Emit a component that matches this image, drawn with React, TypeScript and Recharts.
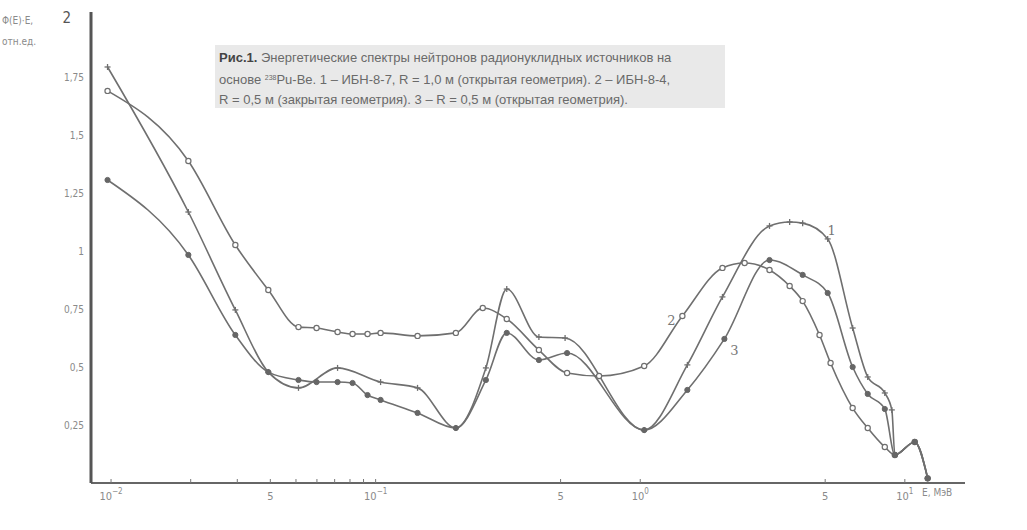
import { LineChart, Line, XAxis, YAxis, ReferenceDot } from "recharts";

// E, MeV
const energy1 = [0.0097, 0.0196, 0.0295, 0.0393, 0.0511, 0.0718, 0.1044, 0.144, 0.201, 0.261, 0.313, 0.414, 0.52, 1.035, 1.507, 2.045, 3.08, 3.67, 4.11, 5.11, 6.35, 7.24, 8.4, 8.93, 9.17, 10.9, 12.2];
const flux1 = [1.793, 1.168, 0.746, 0.478, 0.41, 0.496, 0.435, 0.41, 0.237, 0.496, 0.836, 0.629, 0.625, 0.228, 0.509, 0.802, 1.108, 1.125, 1.12, 1.052, 0.668, 0.457, 0.388, 0.315, 0.121, 0.177, 0.02];

const energy2 = [0.0097, 0.0196, 0.0295, 0.0393, 0.0511, 0.0598, 0.0718, 0.0818, 0.0932, 0.1044, 0.144, 0.201, 0.254, 0.313, 0.414, 0.529, 0.699, 1.035, 1.443, 2.045, 2.48, 3.08, 3.67, 4.11, 4.76, 5.24, 6.35, 7.24, 8.4, 9.17, 10.9, 12.2];
const flux2 = [1.69, 1.388, 1.026, 0.832, 0.672, 0.668, 0.651, 0.642, 0.642, 0.647, 0.634, 0.647, 0.754, 0.707, 0.573, 0.474, 0.461, 0.504, 0.72, 0.927, 0.948, 0.918, 0.849, 0.784, 0.638, 0.517, 0.323, 0.237, 0.155, 0.121, 0.177, 0.02];

const energy3 = [0.0097, 0.0196, 0.0295, 0.0393, 0.0511, 0.0598, 0.0718, 0.0818, 0.0932, 0.1044, 0.144, 0.201, 0.261, 0.313, 0.414, 0.529, 1.035, 1.507, 2.08, 3.08, 4.11, 5.11, 6.35, 7.24, 8.4, 9.17, 10.9, 12.2];
const flux3 = [1.306, 0.983, 0.638, 0.478, 0.444, 0.435, 0.435, 0.431, 0.379, 0.358, 0.302, 0.237, 0.444, 0.647, 0.53, 0.56, 0.228, 0.401, 0.621, 0.961, 0.897, 0.819, 0.5, 0.384, 0.319, 0.121, 0.177, 0.02];

const xTicks = [0.01, 0.02, 0.03, 0.04, 0.05, 0.06, 0.07, 0.08, 0.09, 0.1, 0.5, 1, 5, 10];
const xTickLabels = ["10^−2", "", "", "5", "", "", "", "", "", "10^−1", "5", "10^0", "5", "10^1"];

const yTicks = [0.25, 0.5, 0.75, 1, 1.25, 1.5, 1.75, 2];
const yTickLabels = ["0,25", "0,5", "0,75", "1", "1,25", "1,5", "1,75", "2"];

const toRows = (es: number[], vs: number[]) => es.map((e, i) => ({ e, v: vs[i] }));

const GREY = "#6f6f6f";
const FONT = "'DejaVu Sans Condensed', 'Liberation Sans Narrow', 'DejaVu Sans', sans-serif";

function XTick({ x, y, payload }: any) {
  const lab = xTickLabels[xTicks.indexOf(payload.value)] || "";
  const [base, exp] = lab.split("^");
  return (
    <g>
      <line x1={x} x2={x} y1={y} y2={y - 4} stroke="#777" />
      {lab && (
        <text x={x} y={y + 17} textAnchor="middle" fontSize={11} fill="#8a8a8a" fontFamily={FONT}>
          {base}
          {exp && <tspan dy={-6} fontSize={8}>{exp}</tspan>}
        </text>
      )}
    </g>
  );
}

function YTick({ x, y, payload }: any) {
  const i = yTicks.indexOf(payload.value);
  const big = payload.value === 2;
  return (
    <text x={x - (big ? 20 : 7)} y={y + 4} textAnchor="end" fontSize={big ? 15 : 10} fill={big ? "#555" : "#8a8a8a"} fontFamily={FONT}>
      {yTickLabels[i]}
    </text>
  );
}

const plusDot = ({ cx, cy, index }: any) => (
  <g key={index}>
    <line x1={cx - 3} x2={cx + 3} y1={cy} y2={cy} stroke={GREY} strokeWidth={1.3} />
    <line x1={cx} x2={cx} y1={cy - 3} y2={cy + 3} stroke={GREY} strokeWidth={1.3} />
  </g>
);
const openDot = ({ cx, cy, index }: any) => (
  <circle key={index} cx={cx} cy={cy} r={2.6} fill="#fff" stroke={GREY} strokeWidth={1.2} />
);
const fullDot = ({ cx, cy, index }: any) => (
  <circle key={index} cx={cx} cy={cy} r={2.6} fill="#666" stroke="#666" />
);

const curveLabel = (v: string) => ({ value: v, fill: "#777", fontSize: 13, fontFamily: "'DejaVu Serif', serif" });

export default function App() {
  return (
    <div style={{ position: "absolute", left: 0, top: 0, width: 1027, height: 530, background: "#fff" }}>
      <LineChart width={1027} height={530} margin={{ top: 12, right: 62, bottom: 17, left: 31 }}>
        <XAxis
          dataKey="e"
          type="number"
          scale="log"
          domain={[0.0084, 16.88]}
          allowDataOverflow
          ticks={xTicks}
          interval={0}
          tick={<XTick />}
          tickLine={false}
          tickSize={0}
          tickMargin={0}
          height={30}
          axisLine={{ stroke: "#666", strokeWidth: 2 }}
        />
        <YAxis
          type="number"
          domain={[0, 2.03]}
          allowDataOverflow
          ticks={yTicks}
          interval={0}
          tick={<YTick />}
          tickLine={false}
          tickSize={0}
          tickMargin={0}
          width={60}
          axisLine={{ stroke: "#555", strokeWidth: 3 }}
        />
        <Line data={toRows(energy1, flux1)} dataKey="v" type="monotone" stroke={GREY} strokeWidth={1.6} dot={plusDot} isAnimationActive={false} />
        <Line data={toRows(energy2, flux2)} dataKey="v" type="monotone" stroke={GREY} strokeWidth={1.6} dot={openDot} isAnimationActive={false} />
        <Line data={toRows(energy3, flux3)} dataKey="v" type="monotone" stroke={GREY} strokeWidth={1.6} dot={fullDot} isAnimationActive={false} />
        <ReferenceDot x={5.29} y={1.09} r={0} label={curveLabel("1")} />
        <ReferenceDot x={1.31} y={0.7} r={0} label={curveLabel("2")} />
        <ReferenceDot x={2.27} y={0.57} r={0} label={curveLabel("3")} />
      </LineChart>
      <div style={{ position: "absolute", left: 2, top: 10, fontFamily: FONT, fontSize: 10, color: "#8a8a8a", lineHeight: "21px" }}>
        <div>Φ(E)·E,</div>
        <div>отн.ед.</div>
      </div>
      <div style={{ position: "absolute", left: 922, top: 487, fontFamily: FONT, fontSize: 10, color: "#8a8a8a" }}>E, МэВ</div>
      <div
        style={{
          position: "absolute",
          left: 215,
          top: 45,
          width: 510,
          height: 63,
          background: "#e9e9e9",
          boxSizing: "border-box",
          padding: "3px 0 0 4px",
          fontFamily: "'Liberation Sans', Arial, sans-serif",
          fontSize: 13,
          lineHeight: "20px",
          color: "#6a6a6a",
          whiteSpace: "nowrap",
        }}
      >
        <div>
          <b style={{ color: "#444" }}>Рис.1.</b> Энергетические спектры нейтронов радионуклидных источников на
        </div>
        <div>
          основе <sup style={{ fontSize: 7, verticalAlign: "4px" }}>238</sup>Pu-Be. 1 – ИБН-8-7, R = 1,0 м (открытая геометрия). 2 – ИБН-8-4,
        </div>
        <div>R = 0,5 м (закрытая геометрия). 3 – R = 0,5 м (открытая геометрия).</div>
      </div>
    </div>
  );
}
